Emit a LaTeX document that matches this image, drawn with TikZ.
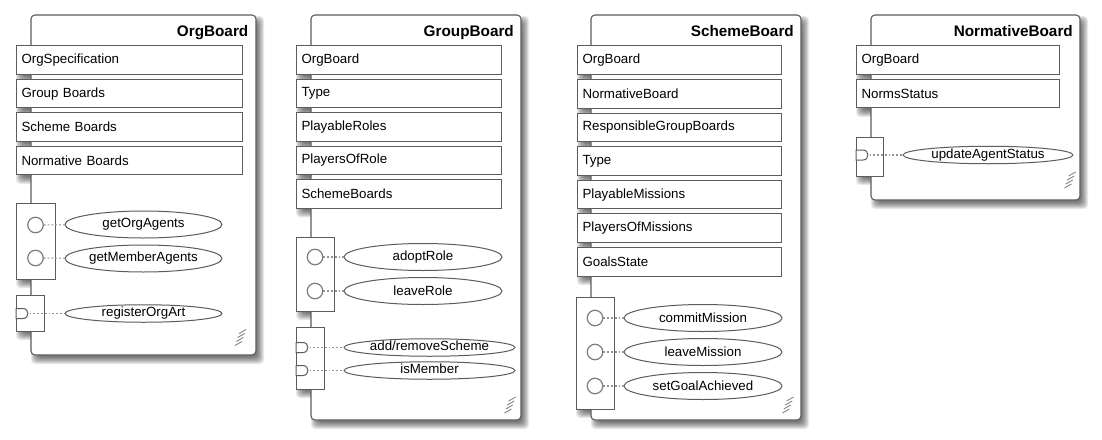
\documentclass[tikz,border=0pt]{standalone}
\usepackage{fontspec}
\setmainfont{Liberation Sans}
\usetikzlibrary{shapes.geometric}
\definecolor{edge}{HTML}{5C5C5C}
\definecolor{dotc}{HTML}{939393}
\newcommand\brdrowfont{\fontsize{13.3}{15}\selectfont}
\newcommand\brdtitlefont{\bfseries\fontsize{15.3}{17}\selectfont}
\newcommand\softshadow[4]{%
  \foreach \k in {0,...,7}{%
    \fill[black,opacity=0.085,rounded corners=4pt] ({#1+7-\k},{#2+8-\k}) rectangle ({#3+1+\k},{#4+2+\k});
  }}
\newcommand\gripmark[2]{%
  \foreach \d in {-6,-2,2,6}{%
    \draw[grip] ({#1-3.5-\d*0.35},{#2+\d+2}) -- ({#1+3.5-\d*0.35},{#2+\d-2});
  }}
\newcommand\portD[2]{% x of block edge, y centre
  \draw[iface] (#1,#2-5) -- (#1+7,#2-5) .. controls (#1+13.5,#2-5) and (#1+13.5,#2+5) .. (#1+7,#2+5) -- (#1,#2+5) -- cycle;}
\tikzset{
  boardbox/.style={draw=edge, fill=white, line width=1.1pt, rounded corners=4pt},
  attr/.style={rectangle, draw=edge, fill=white, line width=1pt, minimum height=28.5pt,
    inner xsep=5.5pt, inner ysep=0pt, text width=#1, align=left, font=\brdrowfont},
  brdtitle/.style={font=\brdtitlefont, anchor=base east, inner sep=0pt},
  iface/.style={draw=edge, fill=white, line width=1pt},
  prov/.style={circle, draw=edge!80, line width=1.2pt, minimum size=15.5pt, inner sep=0pt, fill=white},
  op/.style={ellipse, draw=edge, line width=1pt, fill=white, minimum width=#1,
    minimum height=27pt, inner sep=0pt, font=\brdrowfont},
  opsmall/.style={op=#1, minimum height=17.5pt, text height=9.3pt, text depth=2.6pt},
  conn/.style={draw=dotc, line width=1.1pt, dash pattern=on 1.8pt off 2pt},
  grip/.style={draw=edge!75, line width=0.9pt},
}
\begin{document}
\begin{tikzpicture}[x=1pt,y=-1pt]
\fill[white] (0,0) rectangle (1102,439);
\useasboundingbox (0,0) rectangle (1102,439);

% ================= OrgBoard =================
\softshadow{31}{15}{256}{355}
\foreach \i in {0,...,3}{\softshadow{16}{46+33.45*\i}{242}{74.5+33.45*\i}}
\softshadow{16}{203}{55}{279}
\softshadow{16}{295}{44}{331}
\draw[boardbox] (31,15) rectangle (256,355);
\node[brdtitle] (Atitle) at (248.5,36) {OrgBoard};
\foreach \t [count=\i] in {OrgSpecification, Group Boards, Scheme Boards, Normative Boards}
  \node[attr=215pt] (A\i) at (129,{60.2+33.45*(\i-1)}) {\t};
\draw[iface] (16,203) rectangle (55,279);
\node[prov] (Ac1) at (35.5,225) {};
\node[prov] (Ac2) at (35.5,258) {};
\node[op=157pt] (Ao1) at (143.5,224.5) {getOrgAgents};
\node[op=157pt] (Ao2) at (143.5,258.5) {getMemberAgents};
\draw[conn] (Ac1) -- (Ao1);
\draw[conn] (Ac2) -- (Ao2);
\draw[iface] (16,295) rectangle (44,331);
\portD{16}{313.5}
\coordinate (Ap1) at (29.5,313.5);
\node[opsmall=157pt] (Ao3) at (143.5,313.5) {registerOrgArt};
\draw[conn] (Ap1) -- (Ao3);
\gripmark{240.5}{337.5}

% ================= GroupBoard =================
\softshadow{311}{15}{521}{420}
\foreach \i in {0,...,4}{\softshadow{296}{46+33.45*\i}{501}{74.5+33.45*\i}}
\softshadow{296}{237}{334}{311}
\softshadow{296}{327}{324}{389}
\draw[boardbox] (311,15) rectangle (521,420);
\node[brdtitle] (Btitle) at (514,36) {GroupBoard};
\foreach \t [count=\i] in {OrgBoard, Type, PlayableRoles, PlayersOfRole, SchemeBoards}
  \node[attr=194pt] (B\i) at (398.5,{60.2+33.45*(\i-1)}) {\t};
\draw[iface] (296,237) rectangle (334,311);
\node[prov] (Bc1) at (315,257) {};
\node[prov] (Bc2) at (315,291) {};
\node[op=158pt] (Bo1) at (423,257) {adoptRole};
\node[op=158pt] (Bo2) at (423,291) {leaveRole};
\draw[conn] (Bc1) -- (Bo1);
\draw[conn] (Bc2) -- (Bo2);
\draw[iface] (296,327) rectangle (324,389);
\portD{296}{347.5}
\portD{296}{370.5}
\coordinate (Bp1) at (309.5,347.5);
\coordinate (Bp2) at (309.5,370.5);
\node[opsmall=171pt] (Bo3) at (429.5,347.5) {add/removeScheme};
\node[opsmall=171pt] (Bo4) at (429.5,370.5) {isMember};
\draw[conn] (Bp1) -- (Bo3);
\draw[conn] (Bp2) -- (Bo4);
\gripmark{510}{405}

% ================= SchemeBoard =================
\softshadow{591}{15}{801}{420}
\foreach \i in {0,...,6}{\softshadow{577}{46+33.6*\i}{781}{74.5+33.6*\i}}
\softshadow{576}{297}{614}{409}
\draw[boardbox] (591,15) rectangle (801,420);
\node[brdtitle] (Ctitle) at (794,36) {SchemeBoard};
\foreach \t [count=\i] in {OrgBoard, NormativeBoard, ResponsibleGroupBoards, Type, PlayableMissions, PlayersOfMissions, GoalsState}
  \node[attr=193pt] (C\i) at (679,{60.2+33.6*(\i-1)}) {\t};
\draw[iface] (576,297) rectangle (614,409);
\node[prov] (Cc1) at (595,318) {};
\node[prov] (Cc2) at (595,352) {};
\node[prov] (Cc3) at (595,386) {};
\node[op=158pt] (Co1) at (703,318) {commitMission};
\node[op=158pt] (Co2) at (703,352) {leaveMission};
\node[op=158pt] (Co3) at (703,386) {setGoalAchieved};
\draw[conn] (Cc1) -- (Co1);
\draw[conn] (Cc2) -- (Co2);
\draw[conn] (Cc3) -- (Co3);
\gripmark{788}{405}

% ================= NormativeBoard =================
\softshadow{871}{15}{1080}{200}
\foreach \i in {0,...,1}{\softshadow{856}{46+33.45*\i}{1059}{74.5+33.45*\i}}
\softshadow{856}{137}{883}{176}
\draw[boardbox] (871,15) rectangle (1080,200);
\node[brdtitle] (Dtitle) at (1073,36) {NormativeBoard};
\foreach \t [count=\i] in {OrgBoard, NormsStatus}
  \node[attr=192pt] (D\i) at (957.5,{60.2+33.45*(\i-1)}) {\t};
\draw[iface] (856,137) rectangle (883,176);
\portD{856}{155}
\coordinate (Dp1) at (869.5,155);
\node[opsmall=170pt] (Do1) at (988,155) {updateAgentStatus};
\draw[conn] (Dp1) -- (Do1);
\gripmark{1070}{180}
\end{tikzpicture}
\end{document}
